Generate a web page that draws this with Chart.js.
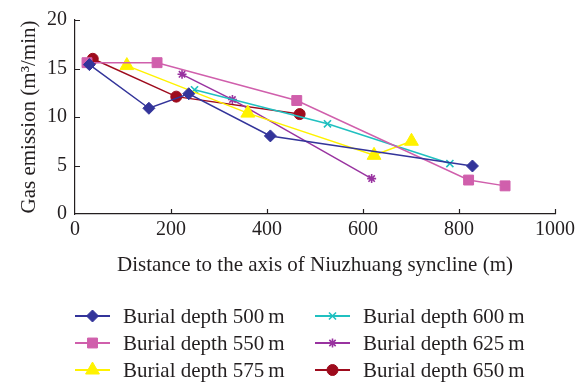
<!DOCTYPE html>
<html>
<head>
<meta charset="utf-8">
<script src="https://cdn.jsdelivr.net/npm/chart.js@4/dist/chart.umd.min.js"></script>
<style>
  html, body { margin: 0; padding: 0; background: #fff; }
  #wrap { width: 579px; height: 387px; position: relative; }
</style>
</head>
<body>
<div id="wrap"><canvas id="gasChart"></canvas></div>
<script>
// Series data (distance in m, gas emission in m3/min)
const depthLabels = ['Burial depth 500\u2009m', 'Burial depth 550\u2009m', 'Burial depth 575\u2009m',
                     'Burial depth 600\u2009m', 'Burial depth 625\u2009m', 'Burial depth 650\u2009m'];

const dist500 = [30, 154, 237, 407, 828];
const gas500  = [15.4, 10.9, 12.4, 8.05, 4.95];
const dist550 = [25, 171, 462, 820, 896];
const gas550  = [15.6, 15.6, 11.7, 3.5, 2.9];
const dist575 = [108, 360, 623, 701];
const gas575  = [15.3, 10.4, 6.05, 7.5];
const dist600 = [249, 526, 781];
const gas600  = [12.8, 9.3, 5.2];
const dist625 = [223, 328, 618];
const gas625  = [14.4, 11.8, 3.65];
const dist650 = [37, 211, 468];
const gas650  = [16.0, 12.1, 10.3];

const xTicks = [0, 200, 400, 600, 800, 1000];
const yTicks = [0, 5, 10, 15, 20];

const seriesColors = ['#33349a', '#d05fac', '#fff200', '#20c0c0', '#9933a0', '#9e0b1d'];
const seriesStyles = ['rectRot', 'rect', 'triangle', 'crossRot', 'star', 'circle'];
const seriesRadius = [6, 7, 8, 5, 4.5, 5.5];

const FONT = "'Liberation Serif', 'DejaVu Serif', serif";
const INK = '#231f20';

const toPoints = (xs, ys) => xs.map((x, i) => ({ x: x, y: ys[i] }));
const allData = [
  toPoints(dist500, gas500), toPoints(dist550, gas550), toPoints(dist575, gas575),
  toPoints(dist600, gas600), toPoints(dist625, gas625), toPoints(dist650, gas650)
];

const datasets = allData.map((pts, i) => ({
  label: depthLabels[i],
  data: pts,
  borderColor: seriesColors[i],
  backgroundColor: seriesColors[i],
  pointBackgroundColor: seriesColors[i],
  pointBorderColor: seriesColors[i],
  pointStyle: seriesStyles[i],
  pointRadius: seriesRadius[i],
  pointBorderWidth: (seriesStyles[i] === 'crossRot' || seriesStyles[i] === 'star') ? 1.6 : 1,
  borderWidth: 1.5,
  tension: 0,
  fill: false
}));

// inward tick marks + two-column legend drawn under the plot
const figureExtras = {
  id: 'figureExtras',
  afterDraw(chart) {
    const ctx = chart.ctx;
    const xs = chart.scales.x, ys = chart.scales.y;
    const area = chart.chartArea;
    ctx.save();
    ctx.strokeStyle = INK;
    ctx.lineWidth = 1.2;
    ctx.beginPath();
    xTicks.forEach(v => {
      const px = Math.round(xs.getPixelForValue(v)) + 0.5;
      if (v === 0) return;
      ctx.moveTo(px, area.bottom);
      ctx.lineTo(px, area.bottom - 5);
    });
    yTicks.forEach(v => {
      const py = Math.round(ys.getPixelForValue(v)) + 0.5;
      if (v === 0) return;
      ctx.moveTo(area.left, py);
      ctx.lineTo(area.left + 5, py);
    });
    ctx.stroke();

    // legend: column-major, 3 rows
    const colX = [75, 315];
    const rowY = [316, 343, 370];
    ctx.font = '21px ' + FONT;
    ctx.textBaseline = 'middle';
    ctx.textAlign = 'left';
    chart.data.datasets.forEach((ds, i) => {
      const col = Math.floor(i / 3), row = i % 3;
      const x0 = colX[col], y0 = rowY[row];
      ctx.strokeStyle = ds.borderColor;
      ctx.fillStyle = ds.backgroundColor;
      ctx.lineWidth = 2;
      ctx.beginPath();
      ctx.moveTo(x0, y0);
      ctx.lineTo(x0 + 35, y0);
      ctx.stroke();
      ctx.lineWidth = ds.pointBorderWidth;
      Chart.helpers.drawPoint(ctx, {
        pointStyle: ds.pointStyle,
        radius: ds.pointRadius,
        rotation: 0,
        borderWidth: ds.pointBorderWidth
      }, x0 + 17.5, y0);
      ctx.fillStyle = INK;
      ctx.fillText(ds.label, x0 + 48, y0 + 1);
    });
    ctx.restore();
  }
};

new Chart(document.getElementById('gasChart'), {
  type: 'line',
  data: { datasets: datasets },
  plugins: [figureExtras],
  options: {
    responsive: true,
    maintainAspectRatio: false,
    animation: false,
    layout: { padding: { top: 18, right: 22, bottom: 109, left: 0 } },
    plugins: {
      legend: { display: false },
      tooltip: { enabled: false }
    },
    scales: {
      x: {
        type: 'linear',
        min: 0,
        max: 1000,
        afterBuildTicks: (s) => { s.ticks = xTicks.map(v => ({ value: v })); },
        afterFit: (s) => { s.height = 64; },
        grid: { display: false, drawTicks: false },
        border: { display: true, color: INK, width: 1.2 },
        ticks: {
          color: INK, font: { family: FONT, size: 20 }, padding: 4, maxRotation: 0,
          callback: (v) => String(v)
        },
        title: {
          display: true,
          text: 'Distance to the axis of Niuzhuang syncline (m)',
          color: INK,
          font: { family: FONT, size: 21 },
          padding: { top: 1, bottom: 0 }
        }
      },
      y: {
        type: 'linear',
        min: 0,
        max: 20,
        afterBuildTicks: (s) => { s.ticks = yTicks.map(v => ({ value: v })); },
        afterFit: (s) => { s.width = 75; },
        grid: { display: false, drawTicks: false },
        border: { display: true, color: INK, width: 1.2 },
        ticks: { color: INK, font: { family: FONT, size: 20 }, padding: 8 },
        title: {
          display: true,
          text: 'Gas emission (m\u00b3/min)',
          color: INK,
          font: { family: FONT, size: 21 },
          padding: { top: 17, bottom: 0 }
        }
      }
    }
  }
});
</script>
</body>
</html>
